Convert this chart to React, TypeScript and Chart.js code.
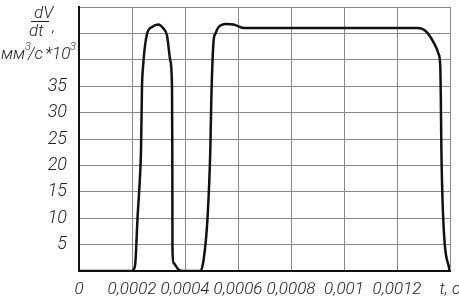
import React, { useEffect, useRef } from "react";
import { Chart, registerables } from "chart.js";

Chart.register(...registerables);

// time, s
const tValues = [
  0, 0.0002, 0.000205, 0.0002125, 0.0002211, 0.0002287, 0.000234, 0.0002377, 0.0002415,
  0.0002566, 0.0002755, 0.0002981, 0.0003192, 0.0003321, 0.0003445, 0.000351, 0.0003521,
  0.0003527, 0.000357, 0.0003758, 0.0003947, 0.0004577, 0.0004702, 0.0004853, 0.0004955,
  0.0004992, 0.0005079, 0.0005143, 0.0005268, 0.0005558, 0.0005834, 0.0006211, 0.0012755,
  0.0013068, 0.0013381, 0.001357, 0.0013634, 0.0013655, 0.0013675, 0.0013759, 0.0013985,
];
// dV/dt, mm^3/s * 10^3
const vValues = [
  0, 0, 0.2, 1.5, 10.3, 16.6, 22.9, 34.8, 38.6,
  44.9, 46.2, 46.7, 45.9, 44.6, 39.9, 34.8, 22.9,
  4, 1.5, 0.25, 0, 0, 2.1, 10.3, 22.9,
  32.3, 43.6, 44.9, 46.2, 46.8, 46.7, 46.0, 46.0,
  45.5, 43.3, 41.1, 38.6, 32.3, 22.9, 8.4, 0,
];
const xTicks = [0, 0.0002, 0.0004, 0.0006, 0.0008, 0.001, 0.0012, 0.0014];
const xTickLabels = ["0", "0,0002", "0,0004", "0,0006", "0,0008", "0,001", "0,0012", "t, c"];
const yTicks = [0, 5, 10, 15, 20, 25, 30, 35, 40, 45, 50];
const yTickLabels = ["", "5", "10", "15", "20", "25", "30", "35", "", "", ""];

const FONT = "Roboto, 'DejaVu Sans Condensed', sans-serif";
const TEXT = "#222";

const titlePlugin = {
  id: "yTitle",
  afterDraw(chart: any) {
    const ctx = chart.ctx;
    ctx.save();
    ctx.fillStyle = TEXT;
    ctx.strokeStyle = TEXT;
    ctx.textBaseline = "alphabetic";
    ctx.textAlign = "left";
    const big = `italic 300 17px ${FONT}`;
    const small = `italic 300 11px ${FONT}`;
    ctx.font = big;
    ctx.fillText("dV", 34, 18);
    ctx.fillText("dt", 29, 36);
    ctx.fillText(",", 52, 32);
    ctx.lineWidth = 1;
    ctx.beginPath();
    ctx.moveTo(31, 21.5);
    ctx.lineTo(49, 21.5);
    ctx.stroke();
    ctx.fillText("мм", 1, 59);
    ctx.fillText("/с", 28, 59);
    ctx.fillText("*10", 45, 59);
    ctx.font = small;
    ctx.fillText("3", 25, 50);
    ctx.fillText("3", 70, 50);
    ctx.restore();
  },
};

export default function App() {
  const ref = useRef<HTMLCanvasElement | null>(null);
  useEffect(() => {
    if (!ref.current) return;
    const data = tValues.map((t, i) => ({ x: t, y: vValues[i] }));
    const chart = new Chart(ref.current, {
      type: "line",
      data: {
        datasets: [
          {
            data,
            borderColor: "#111",
            borderWidth: 2.5,
            pointRadius: 0,
            fill: false,
            cubicInterpolationMode: "monotone",
          },
        ],
      },
      options: {
        animation: false,
        responsive: false,
        maintainAspectRatio: false,
        layout: { padding: { top: 7, right: 9, left: 0, bottom: 0 } },
        plugins: { legend: { display: false }, tooltip: { enabled: false } },
        scales: {
          x: {
            type: "linear",
            min: 0,
            max: 0.0014,
            afterBuildTicks: (scale: any) => {
              scale.ticks = xTicks.map((v) => ({ value: v }));
            },
            afterFit: (scale: any) => {
              scale.height = 29;
              scale.paddingLeft = 0;
              scale.paddingRight = 0;
            },
            ticks: {
              callback: (v: any) => {
                const i = xTicks.findIndex((t) => Math.abs(t - Number(v)) < 1e-9);
                return i >= 0 ? xTickLabels[i] : "";
              },
              color: TEXT,
              font: { family: FONT, size: 17, style: "italic", weight: "300" },
              padding: 9,
              maxRotation: 0,
              autoSkip: false,
            },
            grid: { color: "#888", lineWidth: 1, drawTicks: false },
            border: { color: "#111", width: 2 },
          },
          y: {
            min: 0,
            max: 50,
            afterBuildTicks: (scale: any) => {
              scale.ticks = yTicks.map((v) => ({ value: v }));
            },
            afterFit: (scale: any) => {
              scale.width = 79;
              scale.paddingTop = 0;
              scale.paddingBottom = 0;
            },
            ticks: {
              callback: (v: any) => {
                const i = yTicks.indexOf(Number(v));
                return i >= 0 ? yTickLabels[i] : "";
              },
              color: TEXT,
              font: { family: FONT, size: 18, style: "italic", weight: "300" },
              padding: 12,
              autoSkip: false,
            },
            grid: { color: "#888", lineWidth: 1, drawTicks: false },
            border: { color: "#111", width: 2 },
          },
        },
      },
      plugins: [titlePlugin],
    } as any);
    return () => chart.destroy();
  }, []);
  return (
    <div style={{ position: "fixed", left: 0, top: 0, width: 459, height: 300, background: "#fff" }}>
      <canvas ref={ref} width={459} height={300} style={{ width: 459, height: 300 }} />
    </div>
  );
}
